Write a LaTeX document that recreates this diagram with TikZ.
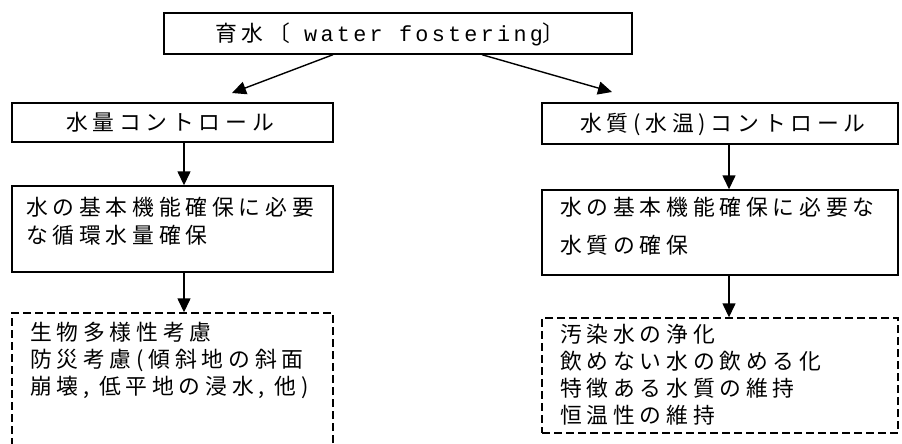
\documentclass[tikz,border=0pt]{standalone}
\usepackage{fontspec}
\usetikzlibrary{arrows.meta}
\setmainfont{Noto Sans CJK JP}[LetterSpace=22]
\newfontfamily\latinmono{Liberation Mono}[LetterSpace=15]
\begin{document}
\begin{tikzpicture}[x=1pt,y=-1pt,
  box/.style={draw,line width=1.4pt,rectangle,inner sep=0pt},
  dbox/.style={draw,line width=1.4pt,dash pattern=on 8pt off 4pt,rectangle,inner sep=0pt},
  txt/.style={inner sep=0pt,align=left,anchor=base west},
  ctxt/.style={inner sep=0pt,anchor=base},
  arr/.style={line width=1.4pt,-{Triangle[length=14pt,width=13pt]}},
  jp/.style={font=\fontsize{21.8}{28}\selectfont}]
\useasboundingbox (0,0) rectangle (902,444);
\clip (0,0) rectangle (902,444);
% boxes
\node[box,minimum width=468pt,minimum height=41pt] (top) at (398,33.5) {};
\node[box,minimum width=321pt,minimum height=39pt] (l1) at (172.5,122.5) {};
\node[box,minimum width=321pt,minimum height=86pt] (l2) at (172.5,229) {};
\node[dbox,minimum width=321pt,minimum height=157pt] (l3) at (172.5,391.5) {};
\node[box,minimum width=356pt,minimum height=41pt] (r1) at (720,123.5) {};
\node[box,minimum width=356pt,minimum height=85pt] (r2) at (720,232.5) {};
\node[dbox,minimum width=356pt,minimum height=115pt] (r3) at (720,375.5) {};
% texts
\node[ctxt,jp] (toptxt) at (390,42) {育水〔\hspace{14pt}{\latinmono water fostering}〕};
\node[ctxt,jp] (l1txt) at (170,130) {水量コントロール};
\node[ctxt,jp] (r1txt) at (723,131) {水質(水温)コントロール};
\node[txt,font=\fontsize{21.8}{28}\selectfont] (l2txt) at (26,243) {水の基本機能確保に必要\\な循環水量確保};
\node[txt,font=\fontsize{21.8}{38}\selectfont] (r2txt) at (560,253) {水の基本機能確保に必要な\\水質の確保};
\node[txt,font=\fontsize{21.8}{27}\selectfont] (l3txt) at (30,394) {生物多様性考慮\\防災考慮(傾斜地の斜面\\崩壊, 低平地の浸水, 他)};
\node[txt,font=\fontsize{21.8}{26.7}\selectfont] (r3txt) at (560,423) {汚染水の浄化\\飲めない水の飲める化\\特徴ある水質の維持\\恒温性の維持};
% arrows
\coordinate (tipL) at (232,93);
\coordinate (tipR) at (612,92);
\draw[arr] ([xshift=-65pt]top.south) -- (tipL);
\draw[arr] ([xshift=84pt]top.south) -- (tipR);
\draw[arr] ([xshift=11.5pt]l1.south) -- ([xshift=11.5pt]l2.north);
\draw[arr] ([xshift=11.5pt]l2.south) -- ([xshift=11.5pt]l3.north);
\draw[arr] ([xshift=9pt]r1.south) -- ([xshift=9pt]r2.north);
\draw[arr] ([xshift=9pt]r2.south) -- ([xshift=9pt]r3.north);
\end{tikzpicture}
\end{document}
